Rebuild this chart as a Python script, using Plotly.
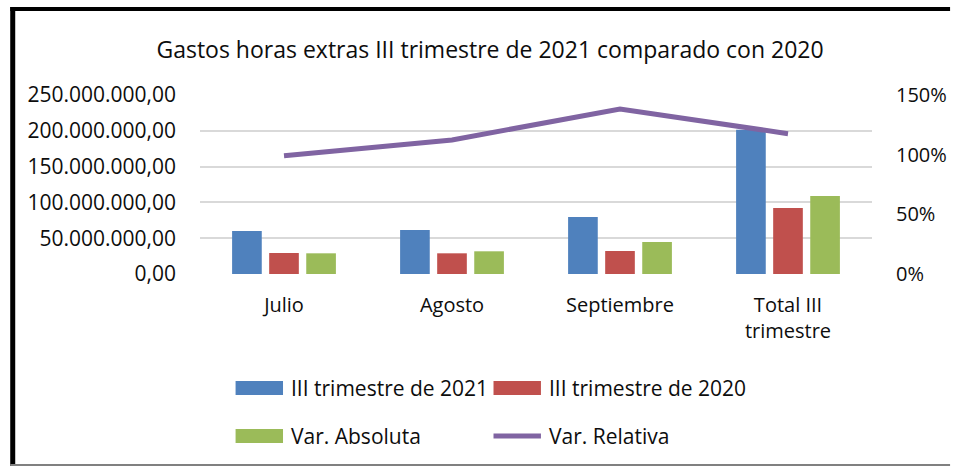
import plotly.graph_objects as go

categories = ["Julio", "Agosto", "Septiembre", "Total III<br>trimestre"]
gasto_2021 = [60.0e6, 61.5e6, 79.6e6, 201.5e6]
gasto_2020 = [29.3e6, 28.9e6, 32.1e6, 92.2e6]
var_absoluta = [28.9e6, 31.7e6, 44.7e6, 108.9e6]
var_relativa = [0.99, 1.123, 1.383, 1.176]

left_ticks = [0, 50e6, 100e6, 150e6, 200e6, 250e6]
left_labels = ["0,00", "50.000.000,00", "100.000.000,00", "150.000.000,00",
               "200.000.000,00", "250.000.000,00"]
right_ticks = [0, 0.5, 1.0, 1.5]
right_labels = ["0%", "50%", "100%", "150%"]

names = ["III trimestre de 2021", "III trimestre de 2020", "Var. Absoluta", "Var. Relativa"]
colors = ["#4F81BD", "#C0504D", "#9BBB59", "#8064A2"]

FONT = "Open Sans"
TXT = "#0d0d0d"
W, H = 959, 466
L, R, T, B = 200, 880, 95, 274


def px(x):
    return (x - L) / (R - L)


def py(y):
    return (B - y) / (B - T)


fig = go.Figure()
for vals, name, col in zip([gasto_2021, gasto_2020, var_absoluta], names[:3], colors[:3]):
    fig.add_trace(go.Bar(x=categories, y=vals, name=name, marker_color=col,
                         marker_line_width=0, showlegend=False))
fig.add_trace(go.Scatter(x=categories, y=var_relativa, name=names[3], yaxis="y2",
                         mode="lines", line=dict(color=colors[3], width=5),
                         showlegend=False))

shapes = []
annotations = []
# custom legend
legend_items = [
    (236, 388, names[0], colors[0], "bar"),
    (497, 388, names[1], colors[1], "bar"),
    (236, 436, names[2], colors[2], "bar"),
    (497, 436, names[3], colors[3], "line"),
]
for x0, yc, name, col, kind in legend_items:
    if kind == "bar":
        shapes.append(dict(type="rect", xref="paper", yref="paper",
                           x0=px(x0), x1=px(x0 + 48), y0=py(yc - 7), y1=py(yc + 7),
                           fillcolor=col, line_width=0))
    else:
        shapes.append(dict(type="line", xref="paper", yref="paper",
                           x0=px(x0), x1=px(x0 + 48), y0=py(yc), y1=py(yc),
                           line=dict(color=col, width=5)))
    annotations.append(dict(xref="paper", yref="paper", x=px(x0 + 54), y=py(yc),
                            xanchor="left", yanchor="middle", showarrow=False,
                            text=name, font=dict(family=FONT, size=21, color=TXT)))

# frame
shapes.append(dict(type="line", xref="paper", yref="paper", x0=px(8), x1=px(959),
                   y0=py(9), y1=py(9), line=dict(color="black", width=4)))
shapes.append(dict(type="line", xref="paper", yref="paper", x0=px(10.5), x1=px(10.5),
                   y0=py(7), y1=py(466), line=dict(color="black", width=5)))
shapes.append(dict(type="line", xref="paper", yref="paper", x0=px(8), x1=px(959),
                   y0=py(465), y1=py(465), line=dict(color="#808080", width=2)))

fig.update_layout(
    width=W, height=H, autosize=False,
    margin=dict(l=L, r=W - R, t=T, b=H - B, pad=0),
    paper_bgcolor="white", plot_bgcolor="white",
    barmode="group", bargap=0.338, bargroupgap=0.2,
    title=dict(text="Gastos horas extras III trimestre de 2021 comparado con 2020",
               x=0.511, xanchor="center", y=1 - 50 / H, yanchor="middle",
               font=dict(family=FONT, size=23, color=TXT)),
    font=dict(family=FONT, color=TXT),
    xaxis=dict(showgrid=False, showline=False, ticks="", zeroline=False,
               tickfont=dict(family=FONT, size=20, color=TXT),
               ticklabelstandoff=17),
    yaxis=dict(range=[0, 250e6], tickvals=left_ticks, ticktext=left_labels,
               showgrid=True, gridcolor="#D9D9D9", gridwidth=2, zeroline=False,
               showline=False, ticks="", ticklabelstandoff=23,
               tickfont=dict(family=FONT, size=21, color=TXT)),
    yaxis2=dict(range=[0, 1.5], tickvals=right_ticks, ticktext=right_labels,
                overlaying="y", side="right", showgrid=False, zeroline=False,
                showline=False, ticks="", ticklabelstandoff=23,
                tickfont=dict(family=FONT, size=20, color=TXT)),
    shapes=shapes,
    annotations=annotations,
)

fig.write_html(
    "out.html",
    config={"displayModeBar": False, "responsive": False},
    post_script=(
        "document.documentElement.style.overflow='hidden';"
        "document.body.style.overflow='hidden';"
        "document.body.style.margin='0';"
    ),
)
